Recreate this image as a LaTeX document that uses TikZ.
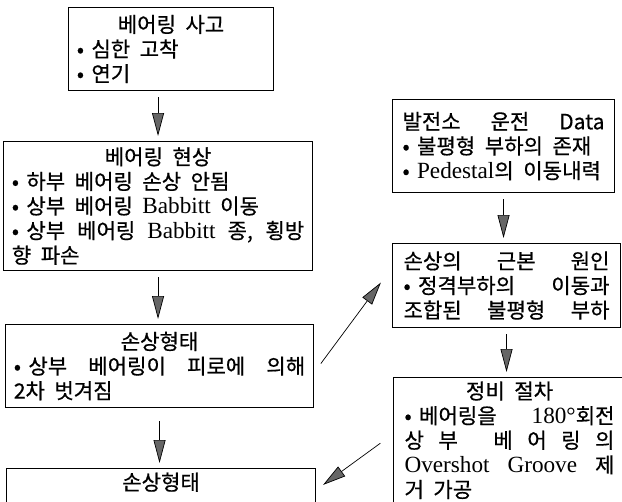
\documentclass[tikz,border=0pt]{standalone}
\usepackage{fontspec}
\setmainfont{Noto Sans CJK KR}[FakeBold=0.6]
\newfontfamily\engfont{Liberation Serif}[Scale=1.1]
\usetikzlibrary{arrows.meta}
\newcommand{\boxfont}{\fontsize{18}{21}\selectfont}
\newcommand{\widespace}{\setlength{\spaceskip}{0.45em plus 0.2em minus 0.1em}}
\newcommand{\fillline}[1]{\makebox[\linewidth][s]{%
  \setlength{\spaceskip}{0.45em plus 1fil}#1}}
\newcommand{\boxtitle}[1]{\makebox[\linewidth]{#1}}
\newcommand{\bul}{•\hspace{0.35em}}

\begin{document}
\begin{tikzpicture}[x=0.03cm,y=-0.03cm,
    box/.style={draw,line width=0.9pt,anchor=north west,
      inner xsep=0.25cm,inner ysep=0.12cm,font=\boxfont},
    rbox/.style={box,inner xsep=0.33cm},
    flow/.style={line width=0.6pt,
      -{Triangle[length=0.69cm,width=0.36cm,fill=black!60]},
      shorten <=0.18cm,shorten >=0.15cm}]
    \useasboundingbox (0,0) rectangle (622,501);
    \clip (0,0) rectangle (622,501);
    % left column
    \node[box,text width=5.65cm,minimum height=2.49cm] (accident) at (68,7)
      {\widespace\boxtitle{베어링 사고}\\\bul 심한 고착\\\bul 연기};
    \node[box,text width=8.77cm,minimum height=3.87cm] (phenomena) at (3,141)
      {\widespace\boxtitle{베어링 현상}\\\bul 하부 베어링 손상 안됨\\
       \bul 상부 베어링 {\engfont Babbitt} 이동\\
       \fillline{\bul 상부 베어링 {\engfont Babbitt} 종, 횡방}\\향 파손};
    \node[box,text width=8.74cm,minimum height=2.49cm] (damage) at (5,324)
      {\widespace\boxtitle{손상형태}\\\fillline{\bul 상부 베어링이 피로에 의해}\\2차 벗겨짐};
    \node[box,text width=8.77cm,text depth=1.5cm] (damageb) at (6,468)
      {\boxtitle{손상형태}};
    % right column
    \node[rbox,text width=6.06cm,minimum height=2.79cm,inner xsep=0.3cm] (plantdata) at (392,99)
      {\widespace\fillline{발전소 운전 Data}\\\bul 불평형 부하의 존재\\
       \bul {\engfont Pedestal}의 이동내력};
    \node[rbox,text width=6.18cm,minimum height=2.52cm] (rootcause) at (392,243)
      {\fillline{손상의 근본 원인}\\\fillline{\bul 정격부하의 이동과}\\
       \fillline{조합된 불평형 부하}};
    \node[rbox,text width=6.3cm,text depth=3.8cm] (repair) at (393,377)
      {\widespace\boxtitle{정비 절차}\\\fillline{\bul 베어링을 {\engfont 180°}회전}\\
       \fillline{상 부 \quad 베 어 링 의}\\
       \fillline{{\engfont Overshot Groove} 제}\\거 가공};
    % arrows
    \draw[flow] (accident.south -| phenomena.north) -- (phenomena.north);
    \draw[flow] (phenomena.south) -- (phenomena.south |- damage.north);
    \draw[flow,shorten <=0.39cm] (damage.south) -- (damage.south |- damageb.north);
    \draw[flow] (plantdata.south) -- (plantdata.south |- rootcause.north);
    \draw[flow] (rootcause.south) -- (rootcause.south |- repair.north);
    \draw[flow,shorten <=0.34cm,shorten >=0.56cm]
      ([yshift=-0.2cm]damage.east) -- ([yshift=0.54cm]rootcause.west);
    \draw[flow,shorten <=0.47cm,shorten >=0.26cm]
      ([yshift=-1.71cm]repair.north west) -- ([yshift=-0.66cm]damageb.north east);
\end{tikzpicture}
\end{document}
